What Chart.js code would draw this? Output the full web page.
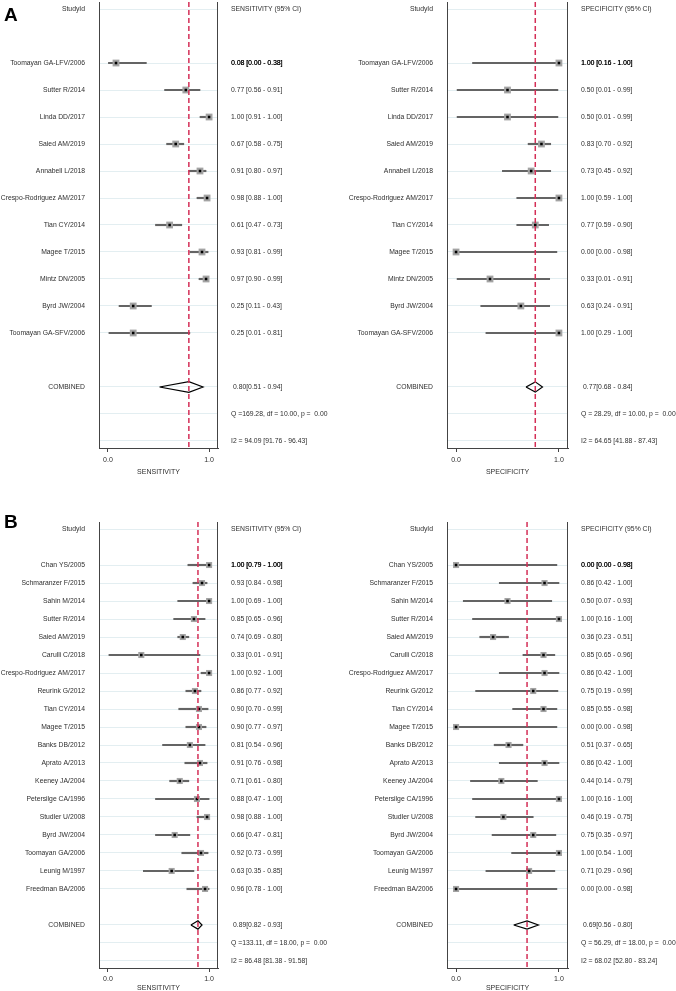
<!DOCTYPE html>
<html>
<head>
<meta charset="utf-8">
<script src="https://cdn.jsdelivr.net/npm/chart.js@4"></script>
<style>
  html, body { margin: 0; padding: 0; background: #fff; overflow: hidden; width: 676px; height: 991px; }
  canvas { position: absolute; }
</style>
</head>
<body>
<canvas id="aSens" width="340" height="484" style="left:0;top:-4px"></canvas>
<canvas id="aSpec" width="336" height="484" style="left:340px;top:-4px"></canvas>
<canvas id="bSens" width="340" height="510" style="left:0;top:490px"></canvas>
<canvas id="bSpec" width="336" height="510" style="left:340px;top:490px"></canvas>
<script>
'use strict';

// ---- panel A ----
const studiesA = ['Toomayan GA-LFV/2006', 'Sutter R/2014', 'Linda DD/2017', 'Saied AM/2019', 'Annabell L/2018',
  'Crespo-Rodriguez AM/2017', 'Tian CY/2014', 'Magee T/2015', 'Mintz DN/2005', 'Byrd JW/2004', 'Toomayan GA-SFV/2006'];
const sensA = [0.08, 0.77, 1.00, 0.67, 0.91, 0.98, 0.61, 0.93, 0.97, 0.25, 0.25];
const sensALow = [0.00, 0.56, 0.91, 0.58, 0.80, 0.88, 0.47, 0.81, 0.90, 0.11, 0.01];
const sensAHigh = [0.38, 0.91, 1.00, 0.75, 0.97, 1.00, 0.73, 0.99, 0.99, 0.43, 0.81];
const specA = [1.00, 0.50, 0.50, 0.83, 0.73, 1.00, 0.77, 0.00, 0.33, 0.63, 1.00];
const specALow = [0.16, 0.01, 0.01, 0.70, 0.45, 0.59, 0.59, 0.00, 0.01, 0.24, 0.29];
const specAHigh = [1.00, 0.99, 0.99, 0.92, 0.92, 1.00, 0.90, 0.98, 0.91, 0.91, 1.00];
const sensAPooled = [0.80, 0.51, 0.94];
const specAPooled = [0.77, 0.68, 0.84];
const sensAStats = ['Q =169.28, df = 10.00, p =  0.00', 'I2 = 94.09 [91.76 - 96.43]'];
const specAStats = ['Q = 28.29, df = 10.00, p =  0.00', 'I2 = 64.65 [41.88 - 87.43]'];

// ---- panel B ----
const studiesB = ['Chan YS/2005', 'Schmaranzer F/2015', 'Sahin M/2014', 'Sutter R/2014', 'Saied AM/2019', 'Carulli C/2018',
  'Crespo-Rodriguez AM/2017', 'Reurink G/2012', 'Tian CY/2014', 'Magee T/2015', 'Banks DB/2012', 'Aprato A/2013',
  'Keeney JA/2004', 'Petersilge CA/1996', 'Studler U/2008', 'Byrd JW/2004', 'Toomayan GA/2006', 'Leunig M/1997', 'Freedman BA/2006'];
const sensB = [1.00, 0.93, 1.00, 0.85, 0.74, 0.33, 1.00, 0.86, 0.90, 0.90, 0.81, 0.91, 0.71, 0.88, 0.98, 0.66, 0.92, 0.63, 0.96];
const sensBLow = [0.79, 0.84, 0.69, 0.65, 0.69, 0.01, 0.92, 0.77, 0.70, 0.77, 0.54, 0.76, 0.61, 0.47, 0.88, 0.47, 0.73, 0.35, 0.78];
const sensBHigh = [1.00, 0.98, 1.00, 0.96, 0.80, 0.91, 1.00, 0.92, 0.99, 0.97, 0.96, 0.98, 0.80, 1.00, 1.00, 0.81, 0.99, 0.85, 1.00];
const specB = [0.00, 0.86, 0.50, 1.00, 0.36, 0.85, 0.86, 0.75, 0.85, 0.00, 0.51, 0.86, 0.44, 1.00, 0.46, 0.75, 1.00, 0.71, 0.00];
const specBLow = [0.00, 0.42, 0.07, 0.16, 0.23, 0.65, 0.42, 0.19, 0.55, 0.00, 0.37, 0.42, 0.14, 0.16, 0.19, 0.35, 0.54, 0.29, 0.00];
const specBHigh = [0.98, 1.00, 0.93, 1.00, 0.51, 0.96, 1.00, 0.99, 0.98, 0.98, 0.65, 1.00, 0.79, 1.00, 0.75, 0.97, 1.00, 0.96, 0.98];
const sensBPooled = [0.89, 0.82, 0.93];
const specBPooled = [0.69, 0.56, 0.80];
const sensBStats = ['Q =133.11, df = 18.00, p =  0.00', 'I2 = 86.48 [81.38 - 91.58]'];
const specBStats = ['Q = 56.29, df = 18.00, p =  0.00', 'I2 = 68.02 [52.80 - 83.24]'];

const xTicks = [0, 1];

const FONT = '"Liberation Sans", Arial, sans-serif';
const TEXT_COLOR = '#2e2e2e';
Chart.defaults.font.family = FONT;
Chart.defaults.font.size = 7;
Chart.defaults.color = TEXT_COLOR;

const fmt = v => v.toFixed(2);

// text columns, frame and panel letter
const forestText = {
  id: 'forestText',
  afterDraw(chart, args, o) {
    const ctx = chart.ctx;
    const area = chart.chartArea;
    const y = chart.scales.y;
    ctx.save();
    ctx.strokeStyle = '#444';
    ctx.lineWidth = 1;
    ctx.beginPath();
    ctx.moveTo(Math.round(area.left) + 0.5, area.top);
    ctx.lineTo(Math.round(area.left) + 0.5, area.bottom);
    ctx.moveTo(Math.round(area.right) - 0.5, area.top);
    ctx.lineTo(Math.round(area.right) - 0.5, area.bottom);
    ctx.stroke();

    ctx.font = '6.8px ' + FONT;
    ctx.fillStyle = TEXT_COLOR;
    ctx.textBaseline = 'middle';
    const lx = area.left - 14;
    const rx = area.right + 13;
    const n = o.names.length;

    const left = (t, row) => { ctx.textAlign = 'right'; ctx.fillText(t, lx, y.getPixelForValue(row)); };
    const right = (t, row, dx) => { ctx.textAlign = 'left'; ctx.fillText(t, rx + (dx || 0), y.getPixelForValue(row)); };

    left('StudyId', 0);
    right(o.header, 0);
    o.names.forEach((name, i) => {
      left(name, i + 2);
      const t = fmt(o.est[i]) + ' [' + fmt(o.low[i]) + ' - ' + fmt(o.high[i]) + ']';
      if (i === 0) {
        ctx.fillStyle = '#000';
        right(t, i + 2);
        right(t, i + 2, 0.3);
        ctx.fillStyle = TEXT_COLOR;
      } else {
        right(t, i + 2);
      }
    });
    left('COMBINED', n + 3);
    right(fmt(o.pooled[0]) + '[' + fmt(o.pooled[1]) + ' - ' + fmt(o.pooled[2]) + ']', n + 3, 2);
    right(o.stats[0], n + 4);
    right(o.stats[1], n + 5);

    if (o.letter) {
      ctx.font = 'bold 19px ' + FONT;
      ctx.fillStyle = '#000';
      ctx.textAlign = 'left';
      ctx.textBaseline = 'alphabetic';
      ctx.fillText(o.letter.text, o.letter.x, o.letter.y);
    }
    ctx.restore();
  }
};

function forestChart(id, o) {
  const n = o.names.length;
  const rowMin = -o.edge;
  const rowMax = n + 5 + o.edge;
  const gridRows = [0];
  for (let i = 0; i < n; i++) gridRows.push(i + 2);
  gridRows.push(n + 3, n + 4, n + 5);
  const c = n + 3;

  const datasets = [
    {
      type: 'line',
      data: [{ x: o.pooled[0], y: rowMin }, { x: o.pooled[0], y: rowMax }],
      borderColor: '#d42f57',
      borderWidth: 1.5,
      borderDash: [5, 3],
      pointRadius: 0
    },
    {
      type: 'line',
      data: [
        { x: o.pooled[1], y: c }, { x: o.pooled[0], y: c - o.diamond },
        { x: o.pooled[2], y: c }, { x: o.pooled[0], y: c + o.diamond }, { x: o.pooled[1], y: c }
      ],
      borderColor: '#000',
      borderWidth: 1.2,
      pointRadius: 0,
      fill: false
    },
    {
      type: 'scatter',
      data: o.est.map((v, i) => ({ x: v, y: i + 2 })),
      pointStyle: 'rect',
      pointRadius: 1.8,
      backgroundColor: '#000',
      borderWidth: 0
    },
    {
      type: 'scatter',
      data: o.est.map((v, i) => ({ x: v, y: i + 2 })),
      pointStyle: 'rect',
      pointRadius: o.square,
      backgroundColor: '#a3a3a3',
      borderWidth: 0
    },
    {
      type: 'bar',
      indexAxis: 'y',
      data: o.low.map((l, i) => ({ x: [l, o.high[i]], y: i + 2 })),
      backgroundColor: '#646464',
      barThickness: 1.5,
      borderWidth: 0
    }
  ];

  return new Chart(document.getElementById(id), {
    type: 'scatter',
    data: { datasets: datasets },
    options: {
      responsive: false,
      animation: false,
      events: [],
      layout: { padding: o.padding },
      plugins: {
        legend: { display: false },
        tooltip: { enabled: false },
        forestText: o
      },
      scales: {
        x: {
          type: 'linear',
          min: -0.088,
          max: 1.088,
          beginAtZero: false,
          afterBuildTicks: axis => { axis.ticks = xTicks.map(v => ({ value: v })); },
          ticks: {
            callback: v => Number(v).toFixed(1), color: TEXT_COLOR,
            font: { size: 7, lineHeight: 1 }, padding: o.tickPad, maxRotation: 0
          },
          grid: { drawOnChartArea: false, drawTicks: true, tickLength: 4, color: '#444', offset: false },
          border: { display: true, color: '#444', width: 1 },
          title: {
            display: true, text: o.axisTitle, color: TEXT_COLOR,
            font: { size: 7, lineHeight: 1 }, padding: { top: o.titlePad, bottom: 0 }
          }
        },
        y: {
          type: 'linear',
          reverse: true,
          offset: false,
          min: rowMin,
          max: rowMax,
          afterBuildTicks: axis => { axis.ticks = gridRows.map(v => ({ value: v })); },
          ticks: { display: false },
          grid: { color: '#e3eef1', drawTicks: false, offset: false },
          border: { display: false }
        }
      }
    },
    plugins: [forestText]
  });
}

forestChart('aSens', {
  names: studiesA, est: sensA, low: sensALow, high: sensAHigh, pooled: sensAPooled, stats: sensAStats,
  header: 'SENSITIVITY (95% CI)', axisTitle: 'SENSITIVITY', edge: 0.26, diamond: 0.2, square: 4.8,
  tickPad: 5, titlePad: 0,
  padding: { left: 99, right: 122, top: 6, bottom: 4 },
  letter: { text: 'A', x: 4, y: 25 }
});
forestChart('aSpec', {
  names: studiesA, est: specA, low: specALow, high: specAHigh, pooled: specAPooled, stats: specAStats,
  header: 'SPECIFICITY (95% CI)', axisTitle: 'SPECIFICITY', edge: 0.26, diamond: 0.19, square: 4.8,
  tickPad: 5, titlePad: 0,
  padding: { left: 107, right: 108, top: 6, bottom: 4 }
});
forestChart('bSens', {
  names: studiesB, est: sensB, low: sensBLow, high: sensBHigh, pooled: sensBPooled, stats: sensBStats,
  header: 'SENSITIVITY (95% CI)', axisTitle: 'SENSITIVITY', edge: 0.39, diamond: 0.23, square: 4.3,
  tickPad: 4, titlePad: -2.5,
  padding: { left: 99, right: 122, top: 32, bottom: 8.5 },
  letter: { text: 'B', x: 4, y: 38 }
});
forestChart('bSpec', {
  names: studiesB, est: specB, low: specBLow, high: specBHigh, pooled: specBPooled, stats: specBStats,
  header: 'SPECIFICITY (95% CI)', axisTitle: 'SPECIFICITY', edge: 0.39, diamond: 0.23, square: 4.3,
  tickPad: 4, titlePad: -2.5,
  padding: { left: 107, right: 108, top: 32, bottom: 8.5 }
});
</script>
</body>
</html>
